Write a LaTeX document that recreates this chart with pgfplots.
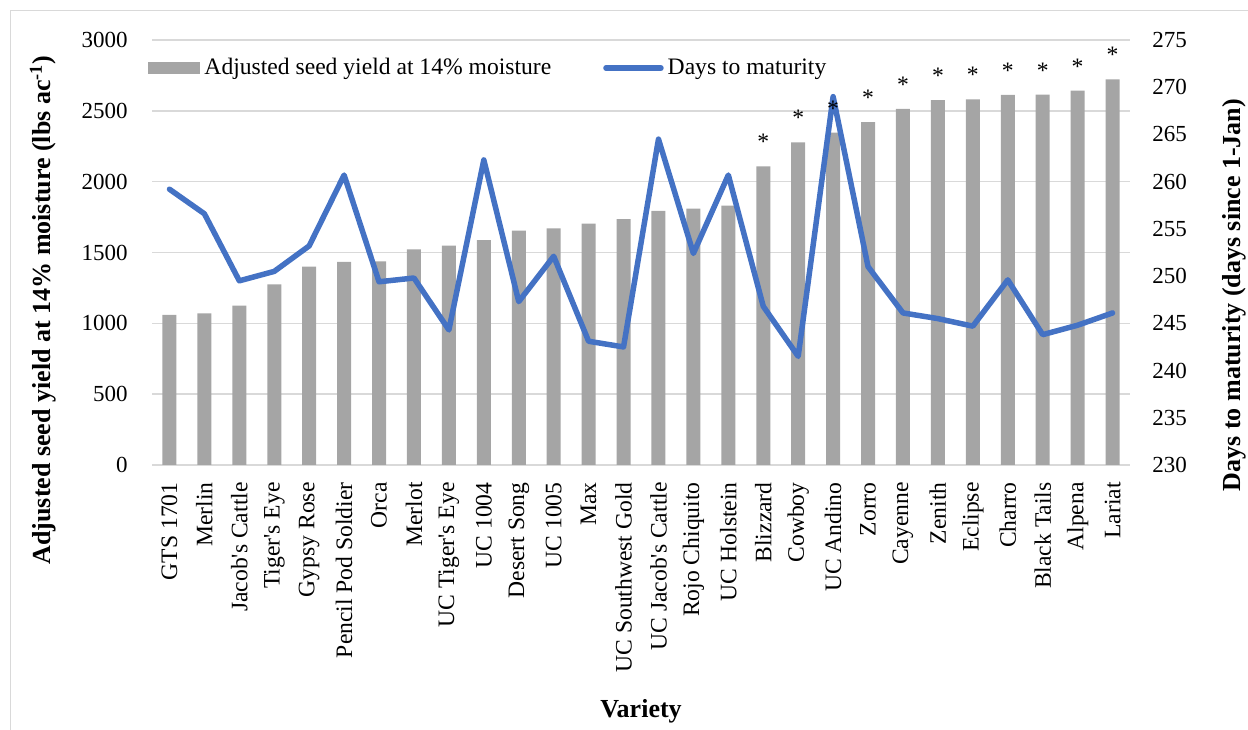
\documentclass[border=0pt]{standalone}
\usepackage{fontspec}
\setmainfont{Liberation Serif}
\usepackage{pgfplots}
\pgfplotsset{compat=1.18}
\usepackage{pgfplotstable}

\definecolor{bargray}{HTML}{A5A5A5}
\definecolor{lineblue}{HTML}{4472C4}
\definecolor{gridgray}{HTML}{D9D9D9}

% idx, adjusted seed yield (lbs/ac), days to maturity
\pgfplotstableread{
idx yield days
0  1059 259.2
1  1071 256.6
2  1125 249.5
3  1275 250.5
4  1400 253.2
5  1433 260.7
6  1438 249.4
7  1522 249.8
8  1548 244.3
9  1588 262.3
10 1654 247.3
11 1670 252.1
12 1703 243.1
13 1736 242.5
14 1793 264.5
15 1809 252.4
16 1830 260.7
17 2108 246.8
18 2278 241.5
19 2346 269.0
20 2421 251.0
21 2513 246.1
22 2576 245.5
23 2581 244.7
24 2612 249.6
25 2615 243.8
26 2642 244.8
27 2722 246.1
}\datatable

\newcommand\tickfont{\fontsize{11.5}{13}\selectfont}
\newcommand\catfont{\fontsize{11.8}{13}\selectfont}
\newcommand\titlefont{\fontsize{13}{15}\selectfont\bfseries}

\pgfplotsset{
  common/.style={
    scale only axis, width=489pt, height=212.5pt,
    xmin=-0.5, xmax=27.5,
    major tick length=0pt,
    /pgf/number format/1000 sep={},
    /pgf/number format/assume math mode=true,
  },
}

\begin{document}
\begin{tikzpicture}
\begin{axis}[
  common, name=main,
  ymin=0, ymax=3000,
  ytick={0,500,...,3000},
  xtick={0,...,27},
  xticklabels={{GTS 1701},{Merlin},{Jacob\textquotesingle s Cattle},{Tiger\textquotesingle s Eye},{Gypsy Rose},{Pencil Pod Soldier},{Orca},{Merlot},{UC Tiger\textquotesingle s Eye},{UC 1004},{Desert Song},{UC 1005},{Max},{UC Southwest Gold},{UC Jacob\textquotesingle s Cattle},{Rojo Chiquito},{UC Holstein},{Blizzard},{Cowboy},{UC Andino},{Zorro},{Cayenne},{Zenith},{Eclipse},{Charro},{Black Tails},{Alpena},{Lariat}},
  xticklabel style={rotate=90, anchor=east, inner sep=0pt, font=\catfont},
  xticklabel shift=8.5pt,
  yticklabel style={anchor=east, inner sep=0pt, font=\tickfont},
  yticklabel shift=12pt,
  ymajorgrids, grid style={gridgray, line width=0.75pt},
  axis line style={draw=none},
  xlabel={Variety},
  xlabel style={at={(axis description cs:0.5,-0.5788)}, anchor=center, font=\titlefont},
  ylabel={Adjusted seed yield at 14\% moisture (lbs ac\textsuperscript{-1})},
  ylabel style={at={(axis description cs:-0.1115,0.365)}, anchor=center, rotate=0, font=\titlefont},
  legend style={at={(axis description cs:-0.004,0.934)}, anchor=west, draw=none, fill=none,
    font=\catfont, inner sep=0pt, legend columns=2,
    /tikz/every even column/.append style={column sep=24pt}},
]
\addplot[fill=bargray, draw=none, ybar, bar width=7pt,
  legend image code/.code={\fill[bargray] (0pt,-3pt) rectangle (26pt,3pt);}]
  table[x=idx, y=yield] {\datatable};
\addlegendentry{Adjusted seed yield at 14\% moisture}
\addlegendimage{lineblue,
  legend image code/.code={\draw[lineblue, line width=2.75pt, line cap=round] (0pt,0pt) -- (27.5pt,0pt);}}
\addlegendentry{Days to maturity}
\end{axis}

\begin{axis}[
  common,
  ymin=230, ymax=275,
  ytick={230,235,...,275},
  axis x line=none, axis y line*=right,
  y axis line style={draw=none},
  yticklabel style={anchor=west, inner sep=0pt, font=\tickfont},
  yticklabel shift=11pt,
  ylabel={Days to maturity (days since 1-Jan)},
  ylabel style={at={(axis description cs:1.1065,0.40)}, anchor=center, rotate=0, font=\titlefont},
]
\addplot[lineblue, line width=2.75pt, line join=round, line cap=round]
  table[x=idx, y=days] {\datatable};
\end{axis}

\begin{axis}[
  common, hide axis,
  ymin=0, ymax=3000,
]
\addplot[draw=none, mark=none, restrict x to domain=17:27,
  nodes near coords={*},
  every node near coord/.append style={anchor=south, inner sep=0pt, yshift=8pt, font=\catfont}]
  table[x=idx, y=yield] {\datatable};
\end{axis}

\draw[gridgray, line width=0.5pt]
  ([xshift=-70.5pt,yshift=-300pt]main.south west) rectangle ([xshift=200pt,yshift=14.5pt]main.north east);
\pgfresetboundingbox
\path ([xshift=-76pt,yshift=-132.5pt]main.south west) rectangle ([xshift=59pt,yshift=20pt]main.north east);
\end{tikzpicture}
\end{document}
